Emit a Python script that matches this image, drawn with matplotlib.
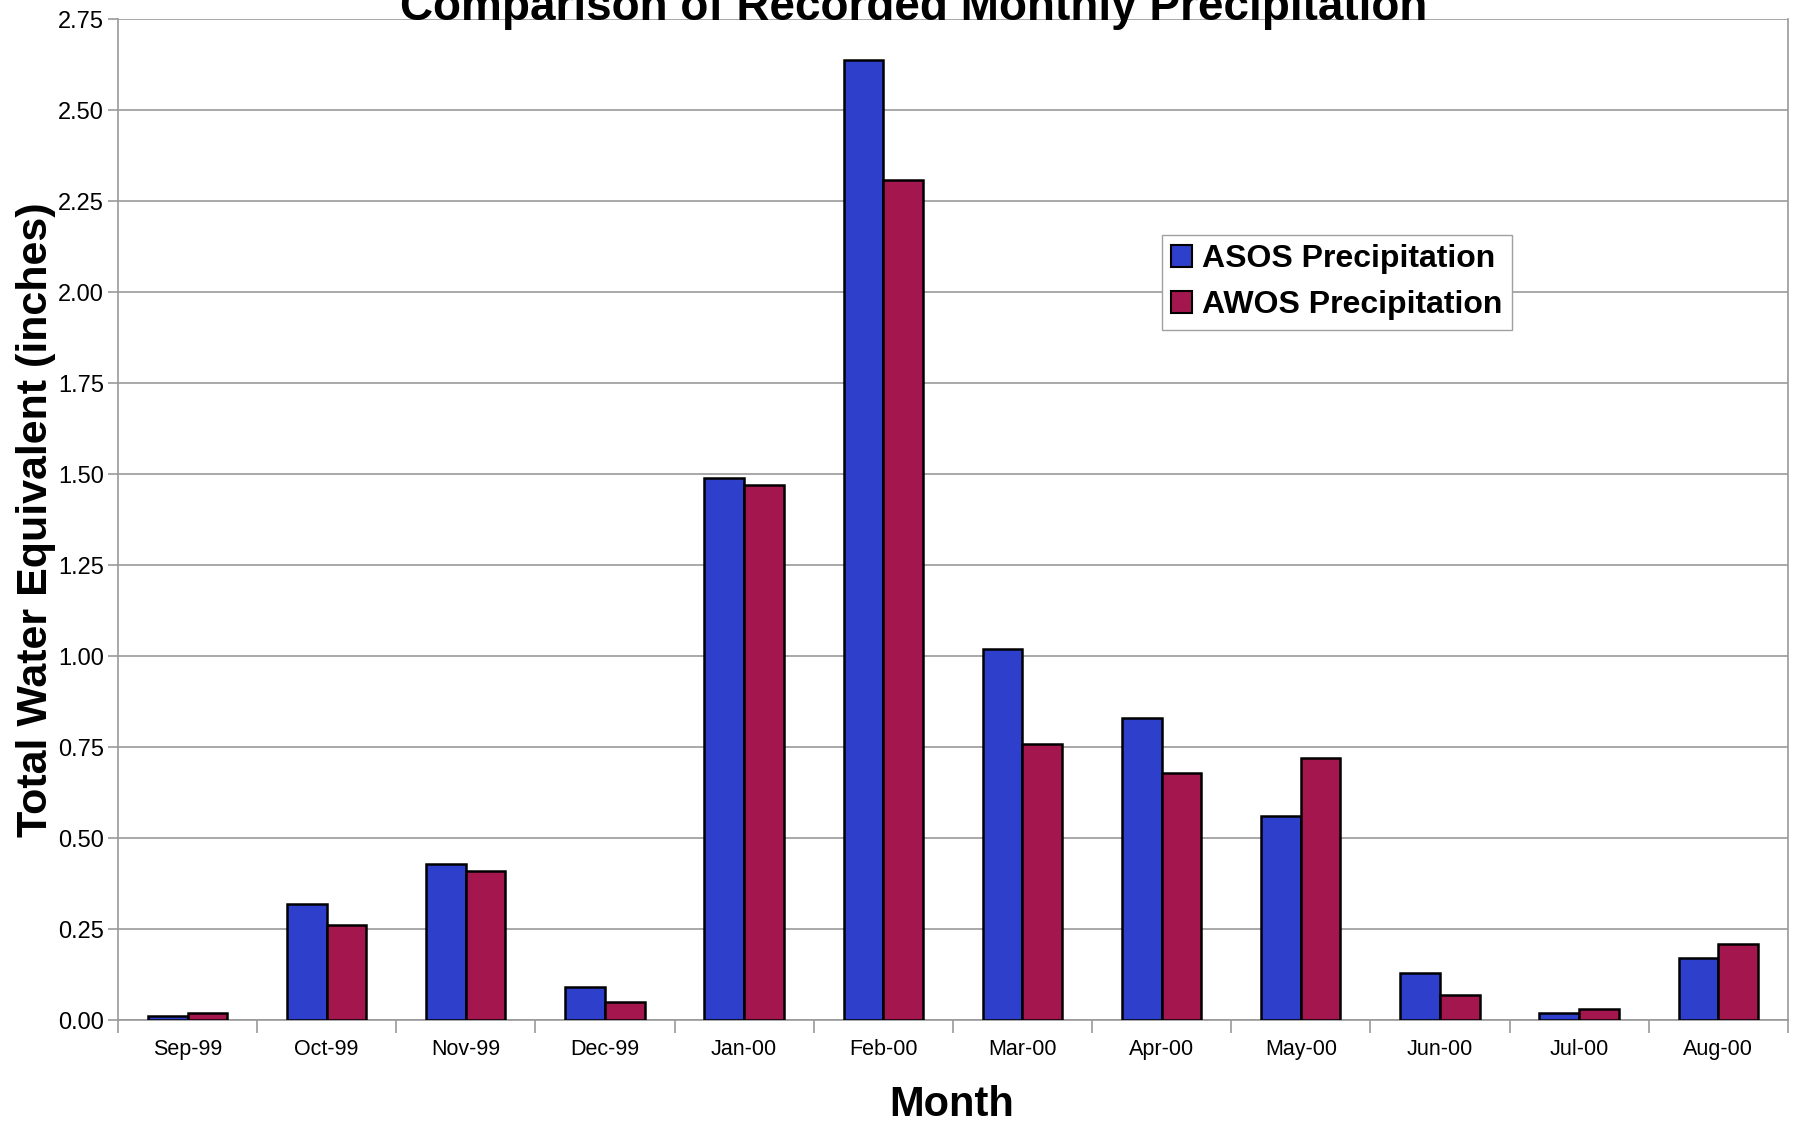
import matplotlib
matplotlib.use("Agg")
import matplotlib.pyplot as plt
from matplotlib.patches import Patch
import numpy as np

months = ["Sep-99", "Oct-99", "Nov-99", "Dec-99", "Jan-00", "Feb-00",
          "Mar-00", "Apr-00", "May-00", "Jun-00", "Jul-00", "Aug-00"]
asos = [0.01, 0.32, 0.43, 0.09, 1.49, 2.64, 1.02, 0.83, 0.56, 0.13, 0.02, 0.17]
awos = [0.02, 0.26, 0.41, 0.05, 1.47, 2.31, 0.76, 0.68, 0.72, 0.07, 0.03, 0.21]
y_ticks = [0.00, 0.25, 0.50, 0.75, 1.00, 1.25, 1.50, 1.75, 2.00, 2.25, 2.50, 2.75]

c_asos = '#2D3FCB'
c_awos = '#A3174E'
c_grid = '#9a9a9a'

plt.rcParams.update({'font.family': ['Liberation Sans', 'DejaVu Sans']})

fig = plt.figure(figsize=(17.95, 11.26), dpi=100)
ax = fig.add_axes([0.0657, 0.0941, 0.9303, 0.8886])

x = np.arange(len(months))
w = 0.285
ax.bar(x - w / 2, asos, width=w, color=c_asos, edgecolor='black', linewidth=1.8, zorder=3)
ax.bar(x + w / 2, awos, width=w, color=c_awos, edgecolor='black', linewidth=1.8, zorder=3)

ax.set_xlim(-0.5, len(months) - 0.5)
ax.set_ylim(0, 2.75)
ax.set_yticks(y_ticks)
ax.set_yticklabels([f"{v:.2f}" for v in y_ticks], fontsize=17)

# month labels in the middle, tick marks between months
ax.set_xticks(x)
ax.set_xticklabels(months, fontsize=15.5)
ax.tick_params(axis='x', which='major', length=0, pad=14)
ax.set_xticks(np.arange(-0.5, len(months), 1.0), minor=True)
ax.tick_params(axis='x', which='minor', length=9, color=c_grid, width=1.2, direction='out')
ax.tick_params(axis='y', length=7, color=c_grid, width=1.2, pad=3)

ax.yaxis.grid(True, color=c_grid, linewidth=1.2, zorder=0)
ax.set_axisbelow(True)
for side in ['left', 'bottom', 'right']:
    ax.spines[side].set_color(c_grid)
    ax.spines[side].set_linewidth(1.2)
ax.spines['top'].set_visible(False)

ax.set_ylabel("Total Water Equivalent (inches)", fontsize=31, fontweight='bold')
ax.yaxis.set_label_coords(-0.037, 0.5)
fig.text(0.530, 0.019, "Month", fontsize=30, fontweight='bold', ha='center', va='center')

# title sits partly above the top edge, as in the scanned original
fig.text(0.509, 0.982, "Comparison of Recorded Monthly Precipitation",
         fontsize=33, fontweight='bold', ha='center', va='baseline')

handles = [Patch(facecolor=c_asos, edgecolor='black', linewidth=1.5, label='ASOS Precipitation'),
           Patch(facecolor=c_awos, edgecolor='black', linewidth=1.5, label='AWOS Precipitation')]
leg = ax.legend(handles=handles, loc='upper left', bbox_to_anchor=(0.625, 0.785),
                prop={'size': 23, 'weight': 'bold'}, fancybox=False, framealpha=1,
                edgecolor='#a0a0a0', handlelength=0.65, handleheight=0.65,
                handletextpad=0.3, labelspacing=0.5, borderpad=0.3, borderaxespad=0)
leg.get_frame().set_linewidth(1.0)

plt.savefig("out.png", dpi=100)
